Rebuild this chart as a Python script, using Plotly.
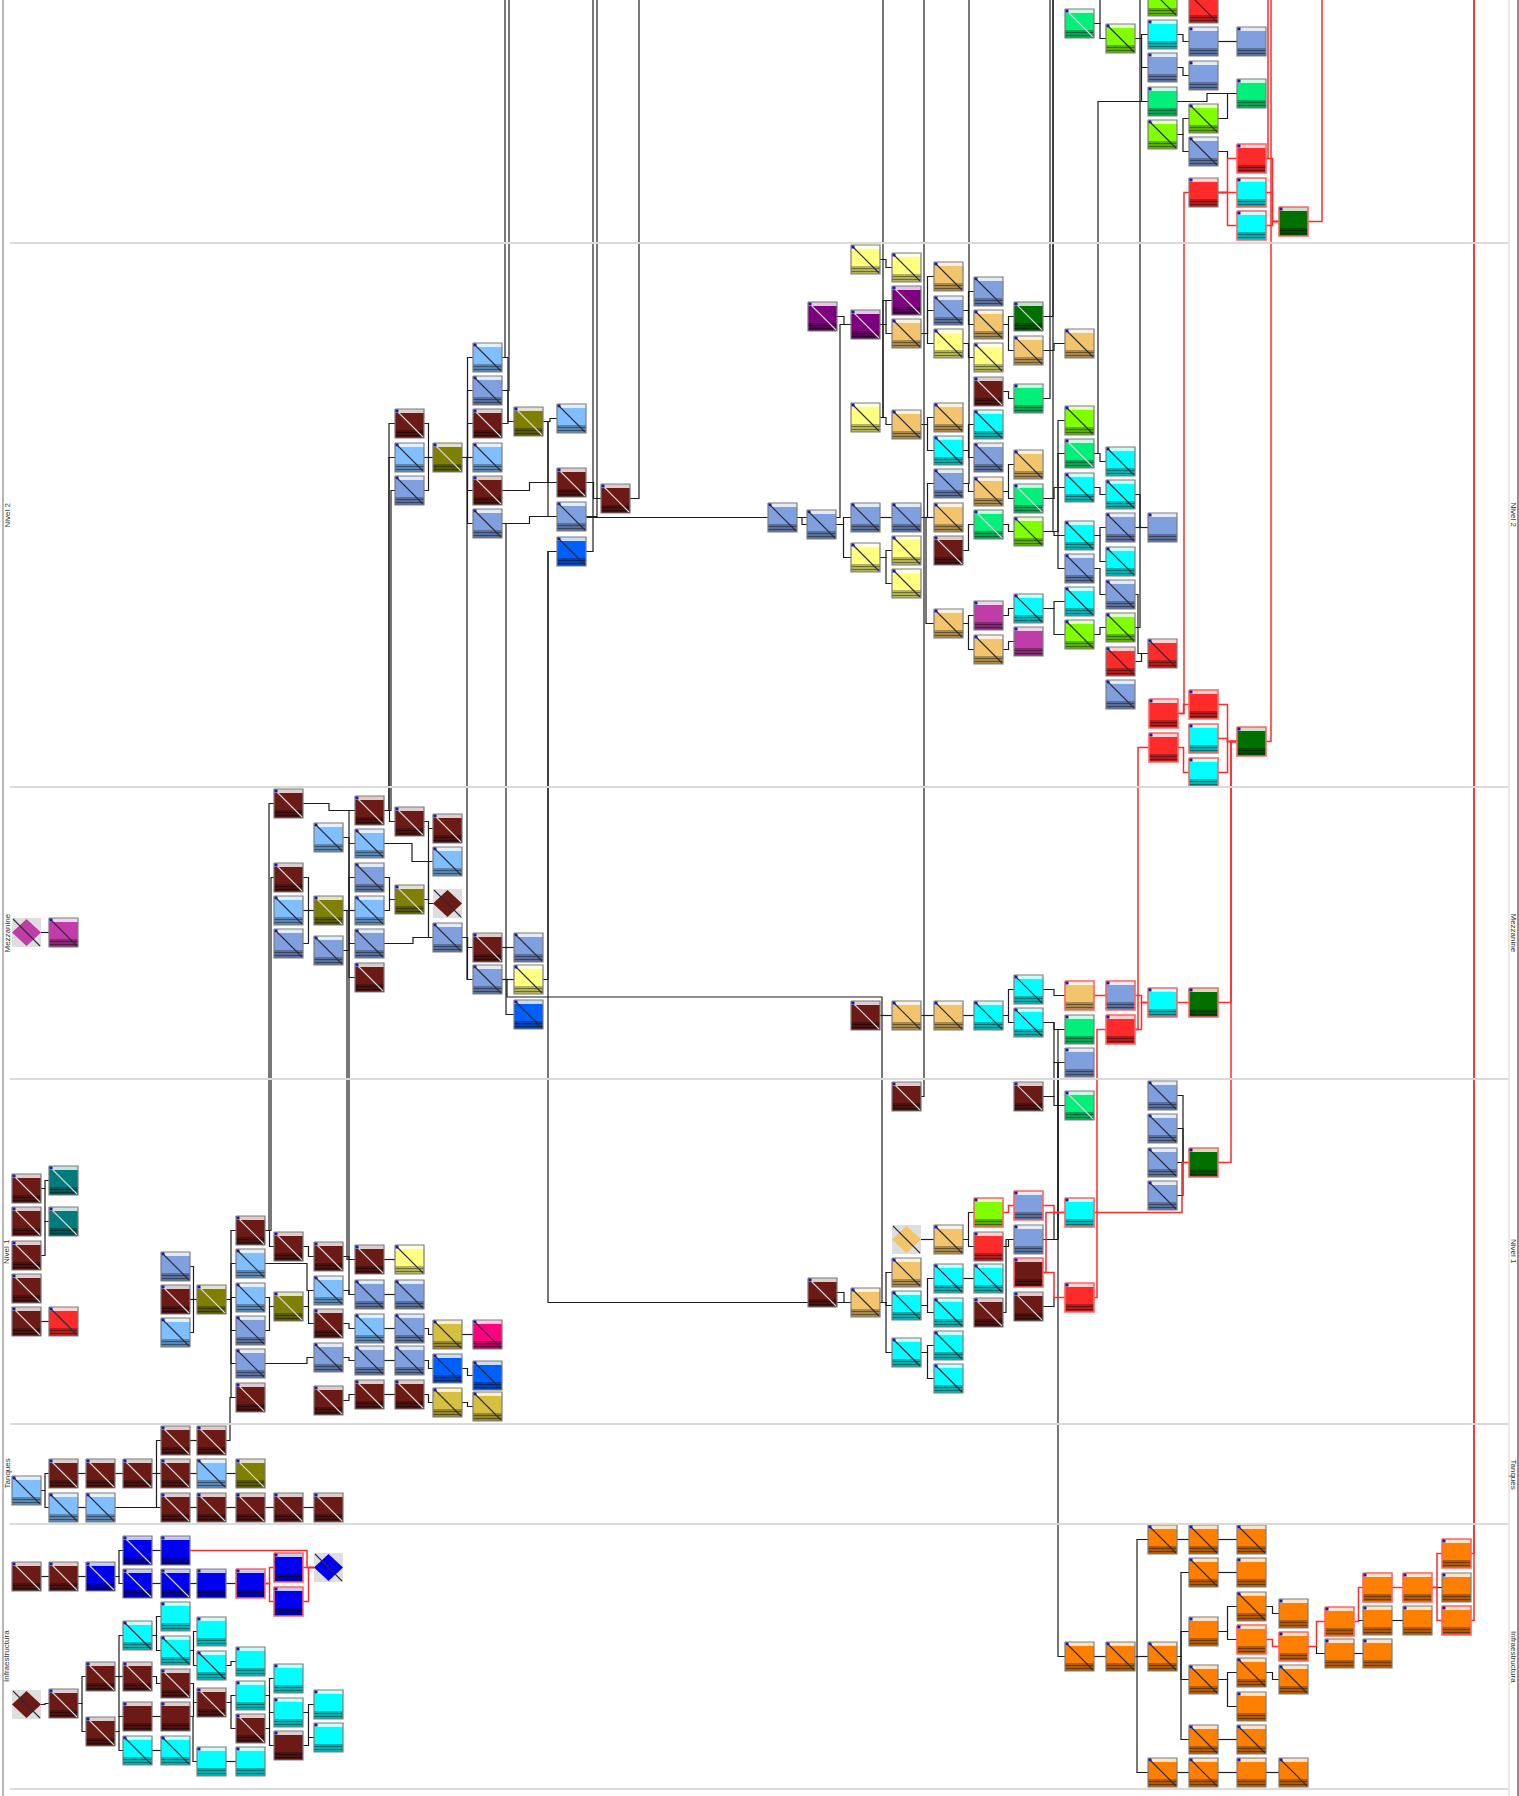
import plotly.graph_objects as go

# ─── Palette ────────────────────────────────────────────────────────────────
COLORS = {
    "DR": "#6b1a15", "LB": "#80bfff", "SB": "#7f9fdf", "OL": "#7f7f00",
    "YE": "#ffff80", "TA": "#f2c46c", "PU": "#7f007f", "MG": "#c03ca8",
    "GR": "#00f07a", "LG": "#80ff00", "DG": "#007000", "CY": "#00ffff",
    "RD": "#ff2a2a", "TE": "#007a7a", "BL": "#0000f0", "RB": "#0060ff",
    "OR": "#ff8000", "PK": "#ff0080", "GY": "#d6c040",
}
LIGHT_DIAG = {"DR", "PU", "DG", "TE", "BL", "OL", "GR"}

W = H = 29

# ─── Nodes: (id, x, y, colour, diagonal) ────────────────────────────────────
NODES_TOP = [
    ("x9", 1065, 9, "GR", 1), ("y24", 1106, 24, "LG", 1), ("z0", 1148, -13, "LG", 1),
    ("A0", 1189, -6, "RD", 1), ("z20", 1148, 20, "CY", 0), ("z53", 1148, 53, "SB", 0),
    ("z87", 1148, 87, "GR", 0), ("z120", 1148, 120, "LG", 1), ("A27", 1189, 27, "SB", 0),
    ("A61", 1189, 61, "SB", 0), ("A104", 1189, 104, "LG", 1), ("A137", 1189, 137, "SB", 1),
    ("A178", 1189, 178, "RD", 0), ("B27", 1237, 27, "SB", 0), ("B79", 1237, 79, "GR", 0),
    ("B144", 1237, 144, "RD", 0), ("B178", 1237, 178, "CY", 0), ("B211", 1237, 211, "CY", 0),
    ("C207", 1279, 207, "DG", 0),
]

NODES_N2 = [
    ("k409", 395, 409, "DR", 1), ("k443", 395, 443, "LB", 1), ("k476", 395, 476, "SB", 1),
    ("l443", 433, 443, "OL", 1), ("m343", 473, 343, "LB", 1), ("m376", 473, 376, "SB", 1),
    ("m409", 473, 409, "DR", 1), ("m443", 473, 443, "LB", 1), ("m476", 473, 476, "DR", 1),
    ("m509", 473, 509, "SB", 1), ("n407", 514, 407, "OL", 1), ("o404", 557, 404, "LB", 1),
    ("o468", 557, 468, "DR", 1), ("o502", 557, 502, "SB", 1), ("o537", 557, 537, "RB", 1),
    ("p484", 601, 484, "DR", 1), ("q503", 768, 503, "SB", 1), ("r302", 808, 302, "PU", 1),
    ("r510", 807, 510, "SB", 1), ("s245", 851, 245, "YE", 1), ("s310", 851, 310, "PU", 1),
    ("s403", 851, 403, "YE", 1), ("s503", 851, 503, "SB", 1), ("s543", 851, 543, "YE", 1),
    ("t253", 892, 253, "YE", 1), ("t286", 892, 286, "PU", 1), ("t319", 892, 319, "TA", 1),
    ("t410", 892, 410, "TA", 1), ("t503", 892, 503, "SB", 1), ("t536", 892, 536, "YE", 1),
    ("t569", 892, 569, "YE", 1), ("u262", 934, 262, "TA", 1), ("u296", 934, 296, "SB", 1),
    ("u329", 934, 329, "YE", 1), ("u403", 934, 403, "TA", 1), ("u436", 934, 436, "CY", 1),
    ("u469", 934, 469, "SB", 1), ("u503", 934, 503, "TA", 1), ("u536", 934, 536, "DR", 1),
    ("u609", 934, 609, "TA", 1), ("v277", 974, 277, "SB", 1), ("v310", 974, 310, "TA", 1),
    ("v343", 974, 343, "YE", 1), ("v377", 974, 377, "DR", 1), ("v410", 974, 410, "CY", 1),
    ("v443", 974, 443, "SB", 1), ("v477", 974, 477, "TA", 1), ("v510", 974, 510, "GR", 1),
    ("v601", 974, 601, "MG", 0), ("v635", 974, 635, "TA", 1), ("w302", 1014, 302, "DG", 1),
    ("w336", 1014, 336, "TA", 1), ("w384", 1014, 384, "GR", 0), ("w450", 1014, 450, "TA", 1),
    ("w484", 1014, 484, "GR", 1), ("w517", 1014, 517, "LG", 1), ("w594", 1014, 594, "CY", 1),
    ("w627", 1014, 627, "MG", 0), ("x329", 1065, 329, "TA", 1), ("x406", 1065, 406, "LG", 1),
    ("x439", 1065, 439, "GR", 1), ("x473", 1065, 473, "CY", 1), ("x521", 1065, 521, "CY", 1),
    ("x554", 1065, 554, "SB", 1), ("x587", 1065, 587, "CY", 1), ("x620", 1065, 620, "LG", 1),
    ("y447", 1106, 447, "CY", 1), ("y480", 1106, 480, "CY", 1), ("y513", 1106, 513, "SB", 1),
    ("y547", 1106, 547, "CY", 1), ("y580", 1106, 580, "SB", 1), ("y613", 1106, 613, "LG", 1),
    ("y647", 1106, 647, "RD", 1), ("y680", 1106, 680, "SB", 1), ("z513", 1148, 513, "SB", 0),
    ("z639", 1148, 639, "RD", 1), ("z699", 1149, 699, "RD", 0), ("z733", 1149, 733, "RD", 0),
    ("A690", 1189, 690, "RD", 0), ("A724", 1189, 724, "CY", 0), ("A758", 1189, 758, "CY", 0),
    ("B727", 1237, 727, "DG", 0),
]

NODES_MEZZ = [
    ("a918", 12, 918, "MG", 1), ("b918", 49, 918, "MG", 1),
    ("h789", 274, 789, "DR", 1), ("h863", 274, 863, "DR", 1), ("h896", 274, 896, "LB", 1),
    ("h929", 274, 929, "SB", 1), ("i823", 314, 823, "LB", 1), ("i896", 314, 896, "OL", 1),
    ("i936", 314, 936, "SB", 1), ("j796", 355, 796, "DR", 1), ("j829", 355, 829, "LB", 1),
    ("j863", 355, 863, "SB", 1), ("j896", 355, 896, "LB", 1), ("j929", 355, 929, "SB", 1),
    ("j963", 355, 963, "DR", 1), ("k807", 395, 807, "DR", 1), ("k885", 395, 885, "OL", 1),
    ("l814", 433, 814, "DR", 1), ("l847", 433, 847, "LB", 1), ("l889", 433, 889, "DR", 1),
    ("l923", 433, 923, "SB", 1), ("m933", 473, 933, "DR", 1), ("m965", 473, 965, "SB", 1),
    ("n933", 514, 933, "SB", 1), ("n965", 514, 965, "YE", 1), ("n1000", 514, 1000, "RB", 1),
    ("s1001", 851, 1001, "DR", 1), ("t1001", 892, 1001, "TA", 1), ("u1001", 934, 1001, "TA", 1),
    ("v1001", 974, 1001, "CY", 1), ("w975", 1014, 975, "CY", 1), ("w1008", 1014, 1008, "CY", 1),
    ("x981", 1065, 981, "TA", 0), ("x1015", 1065, 1015, "GR", 0), ("x1048", 1065, 1048, "SB", 0),
    ("y981", 1106, 981, "SB", 0), ("y1015", 1106, 1015, "RD", 0), ("z988", 1148, 988, "CY", 0),
    ("A988", 1189, 988, "DG", 0),
]

NODES_N1 = [
    ("a1174", 12, 1174, "DR", 1), ("a1207", 12, 1207, "DR", 1), ("a1241", 12, 1241, "DR", 1),
    ("a1274", 12, 1274, "DR", 1), ("a1307", 12, 1307, "DR", 1), ("b1166", 49, 1166, "TE", 1),
    ("b1207", 49, 1207, "TE", 1), ("b1307", 49, 1307, "RD", 1), ("e1252", 161, 1252, "SB", 1),
    ("e1285", 161, 1285, "DR", 1), ("e1318", 161, 1318, "LB", 1), ("f1285", 197, 1285, "OL", 1),
    ("g1216", 236, 1216, "DR", 1), ("g1249", 236, 1249, "LB", 1), ("g1283", 236, 1283, "LB", 1),
    ("g1316", 236, 1316, "SB", 1), ("g1349", 236, 1349, "SB", 1), ("g1383", 236, 1383, "DR", 1),
    ("h1232", 274, 1232, "DR", 1), ("h1292", 274, 1292, "OL", 1), ("i1242", 314, 1242, "DR", 1),
    ("i1276", 314, 1276, "LB", 1), ("i1309", 314, 1309, "DR", 1), ("i1343", 314, 1343, "SB", 1),
    ("i1386", 314, 1386, "DR", 1), ("j1245", 355, 1245, "DR", 1), ("j1280", 355, 1280, "SB", 1),
    ("j1314", 355, 1314, "LB", 1), ("j1346", 355, 1346, "SB", 1), ("j1380", 355, 1380, "DR", 1),
    ("k1245", 395, 1245, "YE", 1), ("k1280", 395, 1280, "SB", 1), ("k1314", 395, 1314, "SB", 1),
    ("k1346", 395, 1346, "SB", 1), ("k1380", 395, 1380, "DR", 1), ("l1320", 433, 1320, "GY", 1),
    ("l1354", 433, 1354, "RB", 1), ("l1388", 433, 1388, "GY", 1), ("m1320", 473, 1320, "PK", 1),
    ("m1361", 473, 1361, "RB", 1), ("m1392", 473, 1392, "GY", 1),
    ("t1082", 892, 1082, "DR", 1), ("w1082", 1014, 1082, "DR", 1), ("x1091", 1065, 1091, "GR", 1),
    ("z1081", 1148, 1081, "SB", 1), ("z1114", 1148, 1114, "SB", 1), ("z1148", 1148, 1148, "SB", 1),
    ("z1181", 1148, 1181, "SB", 1), ("A1148", 1189, 1148, "DG", 0), ("v1198", 974, 1198, "LG", 0),
    ("w1191", 1014, 1191, "SB", 0), ("x1198", 1065, 1198, "CY", 0), ("t1225", 892, 1225, "TA", 1),
    ("u1225", 934, 1225, "TA", 1), ("v1232", 974, 1232, "RD", 0), ("w1225", 1014, 1225, "SB", 0),
    ("w1258", 1014, 1258, "DR", 0), ("t1258", 892, 1258, "TA", 1), ("u1264", 934, 1264, "CY", 1),
    ("v1264", 974, 1264, "CY", 1), ("v1298", 974, 1298, "DR", 1), ("w1292", 1014, 1292, "DR", 1),
    ("x1283", 1065, 1283, "RD", 0), ("r1278", 808, 1278, "DR", 1), ("s1288", 851, 1288, "TA", 1),
    ("t1291", 892, 1291, "CY", 1), ("u1298", 934, 1298, "CY", 1), ("t1338", 892, 1338, "CY", 1),
    ("u1331", 934, 1331, "CY", 1), ("u1364", 934, 1364, "CY", 1),
]

NODES_TANKS = [
    ("a1476", 12, 1476, "LB", 1), ("b1459", 49, 1459, "DR", 1), ("c1459", 86, 1459, "DR", 1),
    ("d1459", 123, 1459, "DR", 1), ("e1459", 161, 1459, "DR", 1), ("f1459", 197, 1459, "LB", 1),
    ("g1459", 236, 1459, "OL", 1), ("e1426", 161, 1426, "DR", 1), ("f1426", 197, 1426, "DR", 1),
    ("b1493", 49, 1493, "LB", 1), ("c1493", 86, 1493, "LB", 1), ("e1493", 161, 1493, "DR", 1),
    ("f1493", 197, 1493, "DR", 1), ("g1493", 236, 1493, "DR", 1), ("h1493", 274, 1493, "DR", 1),
    ("i1493", 314, 1493, "DR", 1),
]

NODES_INFRA = [
    ("a1562", 12, 1562, "DR", 1), ("b1562", 49, 1562, "DR", 1), ("c1562", 86, 1562, "BL", 1),
    ("d1536", 123, 1536, "BL", 1), ("e1536", 161, 1536, "BL", 0), ("d1569", 123, 1569, "BL", 1),
    ("e1569", 161, 1569, "BL", 1), ("f1569", 197, 1569, "BL", 0), ("g1569", 236, 1569, "BL", 0),
    ("h1553", 274, 1553, "BL", 0), ("h1587", 274, 1587, "BL", 0), ("i1553", 314, 1553, "BL", 1),
    ("e1602", 161, 1602, "CY", 0), ("d1621", 123, 1621, "CY", 1), ("e1636", 161, 1636, "CY", 1),
    ("f1617", 197, 1617, "CY", 0), ("f1651", 197, 1651, "CY", 1), ("g1647", 236, 1647, "CY", 0),
    ("c1662", 86, 1662, "DR", 1), ("d1662", 123, 1662, "DR", 1), ("e1669", 161, 1669, "DR", 1),
    ("a1690", 12, 1690, "DR", 1), ("b1689", 49, 1689, "DR", 1), ("f1688", 197, 1688, "DR", 1),
    ("g1681", 236, 1681, "CY", 0), ("h1664", 274, 1664, "CY", 0), ("c1717", 86, 1717, "DR", 1),
    ("d1702", 123, 1702, "DR", 0), ("e1702", 161, 1702, "DR", 0), ("g1714", 236, 1714, "DR", 1),
    ("h1698", 274, 1698, "CY", 0), ("i1690", 314, 1690, "CY", 0), ("h1731", 274, 1731, "DR", 0),
    ("i1723", 314, 1723, "CY", 0), ("d1736", 123, 1736, "CY", 1), ("e1736", 161, 1736, "CY", 1),
    ("f1747", 197, 1747, "CY", 0), ("g1747", 236, 1747, "CY", 0),
    ("x1642", 1065, 1642, "OR", 1), ("y1642", 1106, 1642, "OR", 1), ("z1525", 1148, 1525, "OR", 1),
    ("A1525", 1189, 1525, "OR", 1), ("B1525", 1237, 1525, "OR", 1), ("A1558", 1189, 1558, "OR", 1),
    ("B1558", 1237, 1558, "OR", 0), ("z1642", 1148, 1642, "OR", 1), ("A1617", 1189, 1617, "OR", 0),
    ("B1592", 1237, 1592, "OR", 1), ("B1625", 1237, 1625, "OR", 0), ("C1599", 1279, 1599, "OR", 0),
    ("C1632", 1279, 1632, "OR", 0), ("D1607", 1325, 1607, "OR", 0), ("D1639", 1325, 1639, "OR", 0),
    ("E1573", 1363, 1573, "OR", 0), ("E1606", 1363, 1606, "OR", 0), ("E1639", 1363, 1639, "OR", 0),
    ("F1573", 1403, 1573, "OR", 0), ("F1606", 1403, 1606, "OR", 0), ("G1539", 1442, 1539, "OR", 0),
    ("G1573", 1442, 1573, "OR", 0), ("G1606", 1442, 1606, "OR", 0), ("A1665", 1189, 1665, "OR", 1),
    ("B1658", 1237, 1658, "OR", 1), ("C1665", 1279, 1665, "OR", 1), ("B1692", 1237, 1692, "OR", 0),
    ("A1725", 1189, 1725, "OR", 1), ("B1725", 1237, 1725, "OR", 1), ("z1758", 1148, 1758, "OR", 1),
    ("A1758", 1189, 1758, "OR", 1), ("B1758", 1237, 1758, "OR", 0), ("C1758", 1279, 1758, "OR", 1),
]

DIAMONDS = ["a918", "l889", "t1225", "i1553", "a1690"]

RED_BORDER = [
    "B144", "B178", "B211", "C207", "z699", "z733", "A690", "A724", "A758", "B727",
    "x981", "y981", "y1015", "z988", "A988", "A1148", "v1198", "w1191", "x1198",
    "w1258", "x1283", "g1569", "h1553", "h1587", "B1625", "C1632", "D1607", "E1573",
    "F1573", "G1539", "G1606",
]

# ─── Edges: (source, target[, route]) ───────────────────────────────────────
EDGES_BLACK = [
    ("x9", "y24"), ("y24", "z20"), ("y24", "z53"), ("y24", "z87"), ("z20", "A27"),
    ("z53", "A61"), ("A27", "B27"), ("z120", "A104"), ("z120", "A137"), ("A137", "B144"),
    ("z87", "B79"), ("A104", "B79"), ("x9", "TOP", 1100),
    # nivel 2
    ("k409", "l443"), ("k443", "l443"), ("k476", "l443"),
    ("l443", "m343"), ("l443", "m376"), ("l443", "m409"), ("l443", "m443"),
    ("l443", "m476"), ("l443", "m509"),
    ("m343", "n407"), ("m376", "n407"), ("m409", "n407"),
    ("n407", "o404"), ("n407", "o468", 548), ("n407", "o502", 548),
    ("m476", "o468"), ("m509", "o502"), ("o468", "p484"),
    ("m343", "TOP", 505), ("m376", "TOP", 509), ("o537", "TOP", 593),
    ("o502", "TOP", 597), ("p484", "TOP", 639), ("o502", "q503", 587),
    ("q503", "r510"), ("q503", "s310", 840), ("r302", "s310"), ("s245", "t253"),
    ("s310", "t286"), ("s310", "t319"), ("t319", "u262"), ("t319", "u296"),
    ("t319", "u329"), ("u296", "v277"), ("u296", "v310"), ("v310", "w302"),
    ("u329", "v343"), ("v310", "w336"), ("w336", "x329"), ("w302", "TOP", 1053),
    ("v377", "w384"), ("w384", "TOP", 1050), ("s403", "t286", 883), ("s403", "TOP", 883),
    ("s403", "t410"), ("t410", "u403"), ("t410", "u436"), ("u436", "v410"),
    ("u436", "v443"), ("u469", "TOP", 969), ("u469", "v477"), ("v477", "w450"),
    ("v477", "w484"), ("r510", "s503"), ("s503", "t503"), ("r510", "s543"),
    ("s543", "t536"), ("s543", "t569"), ("t503", "u469"), ("t503", "u503"),
    ("t503", "u609", 926), ("u536", "v510"), ("v510", "w517"),
    ("w517", "x406", 1058), ("w517", "x439", 1058), ("w517", "x521"),
    ("w517", "x554", 1058), ("w517", "TOP", 1053), ("w484", "x473"),
    ("x439", "y447"), ("x473", "y480"), ("x521", "y513"), ("x521", "y547"),
    ("x554", "y580"), ("y513", "z513"), ("y480", "z513", 1140),
    ("u609", "v601"), ("u609", "v635"), ("v601", "w594"), ("v635", "w627"),
    ("w594", "x587"), ("w594", "x620"), ("x620", "y613"), ("y613", "TOP", 1140),
    ("y647", "z639"), ("x439", "z87", 1098), ("y580", "z639", 1138),
    ("t1082", "TOP", 924),
    # mezzanine
    ("a918", "b918"), ("h789", "j796"), ("i823", "j829"),
    ("h863", "i896"), ("h896", "i896"), ("h929", "i896"),
    ("i896", "j796"), ("i896", "j829"), ("i896", "j863"), ("i896", "j896"),
    ("i896", "j929"), ("i896", "j963"), ("i936", "j929"),
    ("j796", "k807"), ("k807", "l814"), ("j829", "l847", 412),
    ("j863", "k885"), ("j896", "k885"), ("j929", "l923", 413),
    ("k885", "l814"), ("k885", "l847"), ("k885", "l889"), ("k885", "l923"),
    ("l923", "m933"), ("l923", "m965"), ("m933", "n933"), ("m965", "n965"),
    ("j796", "k409", 389), ("j796", "k443", 389), ("j796", "k476", 391),
    ("l443", "m965", 467), ("m509", "n1000", 506),
    ("n965", "o537", 548), ("o537", "s1288", 548),
    ("m965", "t1001", [507, 997, 882]),
    ("g1216", "h789", 269), ("g1216", "h863", 271),
    ("i896", "j1245", 347), ("i896", "j1280", 349),
    ("s1001", "t1001"), ("t1001", "u1001"), ("u1001", "v1001"),
    ("v1001", "w975"), ("v1001", "w1008"), ("w975", "x981"),
    ("w1008", "x1015"), ("w1008", "x1048"), ("w1082", "x1048"), ("w1082", "x1091"),
    ("w1225", "x1048", 1058), ("w1225", "x1015", 1058), ("x1048", "x1642", 1058),
    # nivel 1
    ("a1174", "b1166"), ("a1174", "b1207"), ("a1241", "b1207"), ("a1307", "b1307"),
    ("e1252", "f1285"), ("e1285", "f1285"), ("e1318", "f1285"),
    ("f1285", "g1216"), ("f1285", "g1249"), ("f1285", "g1283"), ("f1285", "g1316"),
    ("f1285", "g1349"), ("f1285", "g1383"),
    ("g1216", "h1232"), ("h1232", "i1242"), ("g1249", "i1276", 307),
    ("g1283", "h1292"), ("g1316", "h1292"), ("h1292", "i1276"), ("h1292", "i1309"),
    ("g1349", "i1343", 307),
    ("i1242", "j1245"), ("i1276", "j1280"), ("i1309", "j1314"), ("i1343", "j1346"),
    ("i1386", "j1380"), ("j1245", "k1245"), ("j1280", "k1280"), ("j1314", "k1314"),
    ("j1346", "k1346"), ("j1380", "k1380"), ("k1314", "l1320"), ("k1346", "l1354"),
    ("k1380", "l1388"), ("l1320", "m1320"), ("l1354", "m1361"), ("l1388", "m1392"),
    ("f1426", "g1383", 230), ("r1278", "s1288"),
    ("s1288", "t1258"), ("s1288", "t1291"), ("s1288", "t1338"), ("s1288", "t1001", 882),
    ("t1225", "u1225"), ("u1225", "v1198"), ("u1225", "v1232"),
    ("t1291", "u1264"), ("t1291", "u1298"), ("u1264", "v1264"),
    ("t1338", "u1331"), ("t1338", "u1364"),
    ("v1232", "w1225"), ("v1298", "w1225", 1006), ("w1225", "x1198"), ("w1292", "x1283"),
    ("z1081", "A1148"), ("z1114", "A1148"), ("z1148", "A1148"), ("z1181", "A1148"),
    # tanques
    ("a1476", "b1459"), ("a1476", "b1493"), ("b1459", "c1459"), ("c1459", "d1459"),
    ("d1459", "e1459"), ("e1459", "f1459"), ("f1459", "g1459"),
    ("d1459", "e1426"), ("d1459", "e1493"), ("e1426", "f1426"),
    ("b1493", "c1493"), ("c1493", "e1493", 140), ("e1493", "f1493"),
    ("f1493", "g1493"), ("g1493", "h1493"), ("h1493", "i1493"),
    # infraestructura
    ("a1562", "b1562"), ("b1562", "c1562"), ("c1562", "d1536"), ("c1562", "d1569"),
    ("d1536", "e1536"), ("d1569", "e1569"), ("e1569", "f1569"), ("f1569", "g1569"),
    ("a1690", "b1689"), ("b1689", "c1662"), ("b1689", "c1717"),
    ("c1662", "d1621"), ("c1662", "d1662"), ("c1662", "d1702"),
    ("d1621", "e1602"), ("d1621", "e1636"), ("d1662", "e1669"),
    ("c1717", "d1702"), ("c1717", "d1736"), ("e1636", "f1617"), ("e1636", "f1651"),
    ("f1651", "g1647"), ("e1669", "f1688"), ("d1702", "e1702"), ("e1702", "f1688"),
    ("e1702", "f1747", 193), ("d1736", "e1736"), ("f1688", "g1681"), ("f1688", "g1714"),
    ("g1681", "h1664"), ("g1681", "h1698"), ("g1714", "h1698"), ("g1714", "h1731"),
    ("h1698", "i1690"), ("h1731", "i1723"), ("h1698", "i1723"), ("f1747", "g1747"),
    ("x1642", "y1642"), ("y1642", "z1525", 1137), ("y1642", "z1642"),
    ("y1642", "z1758", 1137), ("z1525", "A1525"), ("A1525", "B1525"),
    ("z1642", "A1558", 1181), ("z1642", "A1617", 1181), ("z1642", "A1665", 1181),
    ("z1642", "A1725", 1181), ("A1558", "B1558"), ("A1617", "B1592"), ("A1617", "B1625"),
    ("B1592", "C1599"), ("C1632", "D1639"), ("D1607", "E1606"), ("D1639", "E1639"),
    ("E1606", "F1606"), ("F1573", "G1573"), ("A1665", "B1658"), ("A1665", "B1692"),
    ("B1658", "C1665"), ("A1725", "B1725"), ("z1758", "A1758"), ("A1758", "B1758"),
    ("B1758", "C1758"),
]

EDGES_RED = [
    ("A178", "B144"), ("A178", "B178"), ("A178", "B211"),
    ("B144", "C207"), ("B178", "C207"), ("B211", "C207"),
    ("B144", "TOP", 1268), ("C207", "TOP", 1322),
    ("z699", "A178", 1184), ("z699", "A690"), ("z733", "A758"),
    ("A690", "B727"), ("A724", "B727"), ("A758", "B727"), ("B727", "TOP", 1271),
    ("x981", "y981"), ("y981", "z988"), ("y1015", "z988"), ("z988", "A988"),
    ("A988", "B727", 1231), ("A1148", "B727", 1231),
    ("v1198", "w1191"), ("w1191", "x1198"), ("x1198", "A1148", 1182),
    ("w1258", "x1198", 1046), ("w1258", "x1283"), ("x1283", "y1015", 1097),
    ("y1015", "z733", 1138),
    ("e1536", "i1553", 307), ("g1569", "h1553"), ("g1569", "h1587"),
    ("h1553", "i1553"), ("h1587", "i1553"),
    ("B1625", "C1632"), ("C1632", "D1607"), ("D1607", "E1573"), ("E1573", "F1573"),
    ("F1573", "G1539"), ("F1573", "G1606"), ("G1539", "TOP", 1474), ("G1606", "TOP", 1474),
]

LANE_LINES = [243, 787, 1079, 1424, 1524, 1789]
LANE_LABELS = ["Nivel 2", "Mezzanine", "Nivel 1", "Tanques", "Infraestructura"]

NODES = NODES_TOP + NODES_N2 + NODES_MEZZ + NODES_N1 + NODES_TANKS + NODES_INFRA


def mix(hex_color, other, t):
    a = [int(hex_color[i:i + 2], 16) for i in (1, 3, 5)]
    b = [int(other[i:i + 2], 16) for i in (1, 3, 5)]
    c = [round(a[k] + (b[k] - a[k]) * t) for k in range(3)]
    return "#%02x%02x%02x" % tuple(c)


pos = {n[0]: (n[1], n[2]) for n in NODES}
pos["TOP"] = (2000, -300)


def route(src, dst, via=None):
    sx, sy = pos[src]
    tx, ty = pos[dst]
    sm, tm = sy + H / 2, ty + H / 2
    if via is None:
        if abs(sm - tm) < 1:
            return [sx + W, tx], [sm, tm]
        via = [(sx + W + tx) / 2]
    if isinstance(via, (int, float)):
        via = [via]
    xs = sx + W if via[0] >= sx + W else sx
    xe = tx if via[-1] <= tx else tx + W
    if len(via) == 1:
        v = via[0]
        return [xs, v, v, xe], [sm, sm, tm, tm]
    x1, y1, x2 = via
    return [xs, x1, x1, x2, x2, xe], [sm, sm, y1, y1, tm, tm]


def edge_trace(edges, color, width):
    xs, ys = [], []
    for e in edges:
        px, py = route(*e)
        xs += px + [None]
        ys += py + [None]
    return go.Scatter(x=xs, y=ys, mode="lines", hoverinfo="skip",
                      line=dict(color=color, width=width), showlegend=False)


def rect(x0, y0, x1, y1):
    return [x0, x1, x1, x0, x0, None], [y0, y0, y1, y1, y0, None]


fig = go.Figure()

# lanes
for y in LANE_LINES:
    fig.add_shape(type="line", x0=10, x1=1509, y0=y, y1=y,
                  line=dict(color="#dadada", width=2))
fig.add_shape(type="line", x0=3, x1=3, y0=0, y1=1796, line=dict(color="#a0a0a0", width=1.5))
fig.add_shape(type="line", x0=1509, x1=1509, y0=0, y1=1796, line=dict(color="#e2e2e2", width=1.5))
fig.add_shape(type="line", x0=1518, x1=1518, y0=0, y1=1796, line=dict(color="#6a6a6a", width=1.5))

for i, label in enumerate(LANE_LABELS):
    yc = (LANE_LINES[i] + LANE_LINES[i + 1]) / 2
    for xl, ang in ((6.5, -90), (1513.5, 90)):
        fig.add_annotation(x=xl, y=yc, text=label, showarrow=False, textangle=ang,
                           font=dict(family="Arial, Liberation Sans, sans-serif",
                                     size=8, color="#333"))

# edges
fig.add_trace(edge_trace(EDGES_BLACK, "#1e1e1e", 1.2))
fig.add_trace(edge_trace(EDGES_RED, "#ff2a2a", 1.5))

# nodes grouped by colour
groups = {}
for nid, x, y, c, d in NODES:
    groups.setdefault(c, []).append((nid, x, y, d))

diamond_set = set(DIAMONDS)
bg_x, bg_y = [], []
for c, items in groups.items():
    col = COLORS[c]
    bx, by, sx_, sy_, dx, dy, lx, ly, mx, my = [], [], [], [], [], [], [], [], [], []
    for nid, x, y, d in items:
        if nid in diamond_set:
            bx2, by2 = rect(x, y, x + W, y + H)
            bg_x += bx2
            bg_y += by2
            mx += [x + W / 2, x + W, x + W / 2, x, x + W / 2, None]
            my += [y + 1, y + H / 2, y + H - 1, y + H / 2, y + 1, None]
            continue
        px, py = rect(x, y, x + W, y + H)
        bx += px
        by += py
        px, py = rect(x, y, x + W, y + 4)
        sx_ += px
        sy_ += py
        px, py = rect(x, y + H - 8, x + W, y + H)
        dx += px
        dy += py
        lx += [x, x + W, None, x, x + W, None]
        ly += [y + H - 5.5, y + H - 5.5, None, y + H - 2.5, y + H - 2.5, None]
    fill_kw = dict(mode="lines", fill="toself", hoverinfo="skip", showlegend=False,
                   line=dict(width=0))
    if mx:
        fig.add_trace(go.Scatter(x=bg_x, y=bg_y, fillcolor="#dedede", **fill_kw))
        bg_x, bg_y = [], []
        fig.add_trace(go.Scatter(x=mx, y=my, fillcolor=col, **fill_kw))
    if bx:
        fig.add_trace(go.Scatter(x=bx, y=by, fillcolor=col, **fill_kw))
        fig.add_trace(go.Scatter(x=sx_, y=sy_, fillcolor=mix(col, "#ffffff", 0.78), **fill_kw))
        fig.add_trace(go.Scatter(x=dx, y=dy, fillcolor=mix(col, "#000000", 0.3), **fill_kw))
        fig.add_trace(go.Scatter(x=lx, y=ly, mode="lines", hoverinfo="skip", showlegend=False,
                                 line=dict(color=mix(col, "#000000", 0.65), width=0.8)))

# diagonals
dark_x, dark_y, light_x, light_y = [], [], [], []
for nid, x, y, c, d in NODES:
    if not d:
        continue
    seg_x = [x + 1, x + W - 1, None]
    seg_y = [y + 1, y + H - 1, None]
    if c in LIGHT_DIAG and nid not in diamond_set:
        light_x += seg_x
        light_y += seg_y
    else:
        dark_x += seg_x
        dark_y += seg_y
fig.add_trace(go.Scatter(x=dark_x, y=dark_y, mode="lines", hoverinfo="skip", showlegend=False,
                         line=dict(color="#2a2a3a", width=1.1)))
fig.add_trace(go.Scatter(x=light_x, y=light_y, mode="lines", hoverinfo="skip", showlegend=False,
                         line=dict(color="#d8d8d8", width=1.1)))

# borders
red_set = set(RED_BORDER)
gx, gy, rx, ry, ix, iy = [], [], [], [], [], []
for nid, x, y, c, d in NODES:
    if nid in diamond_set:
        continue
    px, py = rect(x, y, x + W, y + H)
    if nid in red_set:
        rx += px
        ry += py
    else:
        gx += px
        gy += py
    ix.append(x + 2)
    iy.append(y + 2)
fig.add_trace(go.Scatter(x=gx, y=gy, mode="lines", hoverinfo="skip", showlegend=False,
                         line=dict(color="#7c7c7c", width=1.2)))
fig.add_trace(go.Scatter(x=rx, y=ry, mode="lines", hoverinfo="skip", showlegend=False,
                         line=dict(color="#ff6464", width=1.6)))
fig.add_trace(go.Scatter(x=ix, y=iy, mode="markers", hoverinfo="skip", showlegend=False,
                         marker=dict(symbol="square", size=3, color="#1a1aa0", line=dict(width=0))))

fig.update_layout(
    width=1519, height=1796,
    margin=dict(l=0, r=0, t=0, b=0),
    paper_bgcolor="white", plot_bgcolor="white",
    xaxis=dict(range=[0, 1519], visible=False, fixedrange=True),
    yaxis=dict(range=[1796, 0], visible=False, fixedrange=True),
    showlegend=False,
)

fig.write_html("out.html", config={"displayModeBar": False},
               post_script="document.body.style.margin='0';")
